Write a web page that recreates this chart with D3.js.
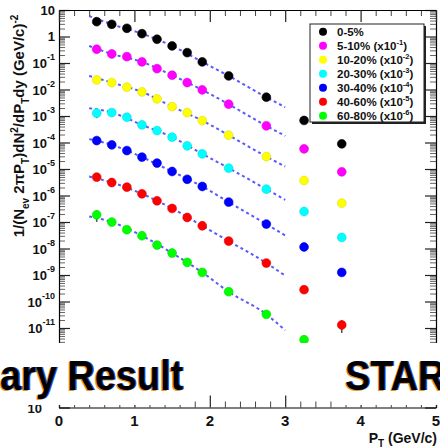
<!DOCTYPE html>
<html>
<head>
<meta charset="utf-8">
<script src="https://cdn.jsdelivr.net/npm/d3@7"></script>
<style>
  body { margin: 0; background: #fff; }
  svg { display: block; }
  text { font-family: "Liberation Sans", Arial, sans-serif; font-weight: bold; }
</style>
</head>
<body>
<svg id="chart" width="440" height="448"></svg>
<script>
// Transverse momentum bin centres (GeV/c)
const pT = [0.5, 0.7, 0.9, 1.1, 1.3, 1.5, 1.7, 1.9, 2.25, 2.75, 3.25, 3.75];

// Invariant yields per centrality class (already scaled as in the legend)
const yield0_5   = [3.62, 2.89, 2.04, 1.28, 0.787, 0.440, 0.246, 0.110, 0.0325, 0.00513, 6.8e-4, 8.9e-5];
const yield5_10  = [0.330, 0.219, 0.174, 0.110, 0.0612, 0.0346, 0.0182, 0.00966, 0.00279, 4.25e-4, 5.77e-5, 7.83e-6];
const yield10_20 = [0.0230, 0.0182, 0.0122, 0.00811, 0.00442, 0.00226, 0.00134, 6.70e-4, 1.89e-4, 2.95e-5, 3.68e-6, 5.18e-7];
const yield20_30 = [1.28e-3, 1.35e-3, 9.0e-4, 4.62e-4, 2.82e-4, 1.59e-4, 7.48e-5, 3.73e-5, 1.08e-5, 1.74e-6, 2.49e-7, 2.61e-8];
const yield30_40 = [1.18e-4, 8.15e-5, 4.97e-5, 2.81e-5, 1.67e-5, 8.04e-6, 4.09e-6, 2.19e-6, 5.65e-7, 8.38e-8, 1.14e-8, 1.25e-9];
const yield40_60 = [4.94e-6, 3.09e-6, 2.07e-6, 1.16e-6, 6.32e-7, 3.24e-7, 1.48e-7, 7.21e-8, 1.91e-8, 2.83e-9, 2.79e-10, 1.30e-11];
const yield60_80 = [1.87e-7, 9.95e-8, 5.11e-8, 3.03e-8, 1.35e-8, 6.75e-9, 2.99e-9, 1.25e-9, 2.34e-10, 3.27e-11, 3.64e-12, null];

// Visible statistical errors: [class index, pT index, absolute error]
const errBars = [[3, 0, 4.5e-4], [6, 0, 8.6e-8], [5, 11, 6.5e-12]];

// Fit curves, sampled at these pT values
const fitPT = [0.4, 0.7, 1.1, 1.5, 1.9, 2.25, 2.75, 3.0];
const fit0_5   = [5.94, 2.89, 1.28, 0.440, 0.110, 0.0325, 0.00513, 0.00215];
const fit5_10  = [0.440, 0.219, 0.110, 0.0346, 0.00966, 0.00279, 4.25e-4, 1.78e-4];
const fit10_20 = [0.0325, 0.0182, 0.00811, 0.00226, 6.70e-4, 1.89e-4, 2.95e-5, 1.24e-5];
const fit20_30 = [1.97e-3, 1.35e-3, 4.62e-4, 1.59e-4, 3.73e-5, 1.08e-5, 1.74e-6, 6.89e-7];
const fit30_40 = [1.34e-4, 8.15e-5, 2.81e-5, 8.04e-6, 2.19e-6, 5.65e-7, 8.38e-8, 3.11e-8];
const fit40_60 = [5.21e-6, 3.09e-6, 1.16e-6, 3.24e-7, 7.21e-8, 1.91e-8, 2.83e-9, 9.42e-10];
const fit60_80 = [1.62e-7, 9.95e-8, 3.03e-8, 6.75e-9, 1.25e-9, 2.34e-10, 3.27e-11, 8.17e-12];

// Centrality classes: label, scale exponent shown in legend
const classes = ["0-5%", "5-10%", "10-20%", "20-30%", "30-40%", "40-60%", "60-80%"];
const scaleExp = [null, -1, -2, -3, -4, -5, -6];
const colors = ["#000000", "#ff00ff", "#ffff00", "#00ffff", "#0000ff", "#ff0000", "#00ff00"];
const yields = [yield0_5, yield5_10, yield10_20, yield20_30, yield30_40, yield40_60, yield60_80];
const fits = [fit0_5, fit5_10, fit10_20, fit20_30, fit30_40, fit40_60, fit60_80];

// Axis tick labels
const xTickLabels = [0, 1, 2, 3, 4, 5];
const yTickExps = [1, 0, -1, -2, -3, -4, -5, -6, -7, -8, -9, -10, -11, -14];

const svg = d3.select("#chart");
const x = d3.scaleLinear().domain([0, 5]).range([59, 436]);
const y = d3.scaleLog().domain([1e-14, 10]).range([407.5, 10]);

// Tick positions
const xMajor = d3.range(0, 5.01, 1);
const xMinor = d3.range(0, 5.01, 0.2).filter(v => Math.abs(v - Math.round(v)) > 1e-6);
const yMajor = d3.range(-14, 2).map(e => Math.pow(10, e));
const yMinor = [];
for (let e = -14; e < 1; e++) for (let m = 2; m <= 9; m++) yMinor.push(m * Math.pow(10, e));

function styleAxis(g, color, width, keepDomain) {
  g.selectAll("text").remove();
  g.selectAll(".tick line").attr("stroke", color).attr("stroke-width", width);
  if (!keepDomain) g.select(".domain").remove();
  else g.select(".domain").attr("stroke", "#000").attr("stroke-width", 1.2);
}

const frame = svg.append("g");
// left & right (log) axes
frame.append("g").attr("transform", "translate(59,0)")
  .call(d3.axisRight(y).tickValues(yMinor).tickSize(6).tickSizeOuter(0))
  .call(g => styleAxis(g, "#666", 1, false));
frame.append("g").attr("transform", "translate(59,0)")
  .call(d3.axisRight(y).tickValues(yMajor).tickSize(11).tickSizeOuter(0))
  .call(g => styleAxis(g, "#222", 1.2, true));
frame.append("g").attr("transform", "translate(436,0)")
  .call(d3.axisLeft(y).tickValues(yMinor).tickSize(6).tickSizeOuter(0))
  .call(g => styleAxis(g, "#666", 1, false));
frame.append("g").attr("transform", "translate(436,0)")
  .call(d3.axisLeft(y).tickValues(yMajor).tickSize(11).tickSizeOuter(0))
  .call(g => styleAxis(g, "#222", 1.2, true));
// top & bottom axes
frame.append("g").attr("transform", "translate(0,10)")
  .call(d3.axisBottom(x).tickValues(xMinor).tickSize(6).tickSizeOuter(0))
  .call(g => styleAxis(g, "#444", 1, false));
frame.append("g").attr("transform", "translate(0,10)")
  .call(d3.axisBottom(x).tickValues(xMajor).tickSize(12).tickSizeOuter(0))
  .call(g => styleAxis(g, "#222", 1.2, true));
frame.append("g").attr("transform", "translate(0,407.5)")
  .call(d3.axisTop(x).tickValues(xMinor).tickSize(6).tickSizeOuter(0))
  .call(g => styleAxis(g, "#444", 1, false));
frame.append("g").attr("transform", "translate(0,407.5)")
  .call(d3.axisTop(x).tickValues(xMajor).tickSize(12).tickSizeOuter(0))
  .call(g => styleAxis(g, "#222", 1.2, true));

// y tick labels: 10^n
const yl = svg.append("g");
yTickExps.forEach(e => {
  const t = yl.append("text").attr("x", 55).attr("y", y(Math.pow(10, e)))
    .attr("text-anchor", "end").attr("dominant-baseline", "central")
    .attr("font-size", 13).attr("fill", "#111");
  if (e === 0) t.text("1");
  else if (e === 1) t.text("10");
  else {
    t.append("tspan").text("10");
    t.append("tspan").attr("font-size", 9).attr("dy", -6).text(String(e));
  }
});

// x tick labels
svg.append("g").selectAll("text").data(xTickLabels).join("text")
  .attr("x", d => x(d)).attr("y", 426).attr("text-anchor", "middle")
  .attr("font-size", 15).attr("fill", "#111").text(d => d);

// x axis title
const xt = svg.append("text").attr("x", 437).attr("y", 443).attr("text-anchor", "end")
  .attr("font-size", 14).attr("fill", "#111");
xt.append("tspan").text("P");
xt.append("tspan").attr("font-size", 10).attr("dy", 4).text("T");
xt.append("tspan").attr("dy", -4).text(" (GeV/c)");

// y axis title
const yt = svg.append("text").attr("transform", "translate(24,126) rotate(-90)")
  .attr("text-anchor", "middle").attr("font-size", 15).attr("fill", "#111");
[["1/(N", 0, 15], ["ev", 5, 10], [" 2\u03C0P", -5, 15], ["T", 5, 10], [")dN", -5, 15],
 ["2", -6, 10], ["/dP", 6, 15], ["T", 5, 10], ["dy (GeV/c)", -5, 15], ["-2", -6, 10]]
  .forEach(([s, dy, fs]) => yt.append("tspan").attr("dy", dy).attr("font-size", fs).text(s));

// fit curves
const fitLine = d3.line().x(d => x(d[0])).y(d => y(d[1])).curve(d3.curveMonotoneX);
svg.append("g").selectAll("path").data(fits).join("path")
  .attr("d", f => fitLine(fitPT.map((p, i) => [p, f[i]])))
  .attr("fill", "none").attr("stroke", "#3c3cff").attr("stroke-opacity", 0.85)
  .attr("stroke-width", 2).attr("stroke-dasharray", "3,3");

// error bars
svg.append("g").selectAll("line").data(errBars).join("line")
  .attr("x1", d => x(pT[d[1]])).attr("x2", d => x(pT[d[1]]))
  .attr("y1", d => y(yields[d[0]][d[1]] + d[2]))
  .attr("y2", d => y(yields[d[0]][d[1]] - d[2]))
  .attr("stroke", "#555").attr("stroke-width", 1.6);

// data points
const pts = svg.append("g");
yields.forEach((ys, k) => {
  pts.selectAll(null).data(pT.map((p, i) => [p, ys[i]]).filter(d => d[1] != null)).join("circle")
    .attr("cx", d => x(d[0])).attr("cy", d => y(d[1])).attr("r", 4.4)
    .attr("fill", colors[k]).attr("stroke", d3.color(colors[k]).darker(0.4)).attr("stroke-width", 0.6);
});

// legend
const lg = svg.append("g");
lg.append("rect").attr("x", 312).attr("y", 26).attr("width", 114).attr("height", 98).attr("fill", "#222");
lg.append("rect").attr("x", 310).attr("y", 24).attr("width", 114).attr("height", 98)
  .attr("fill", "#fff").attr("stroke", "#222").attr("stroke-width", 1);
classes.forEach((c, i) => {
  const yy = 31.7 + i * 14;
  lg.append("circle").attr("cx", 323).attr("cy", yy).attr("r", 4).attr("fill", colors[i]);
  const t = lg.append("text").attr("x", 337).attr("y", yy + 4).attr("font-size", 11.5).attr("fill", "#111");
  t.append("tspan").text(c);
  if (scaleExp[i] != null) {
    t.append("tspan").text(" (x10");
    t.append("tspan").attr("font-size", 7.5).attr("dy", -5).text(String(scaleExp[i]));
    t.append("tspan").attr("dy", 5).text(")");
  }
});

// banner across the lower part
const bn = svg.append("g");
bn.append("rect").attr("x", 0).attr("y", 343).attr("width", 440).attr("height", 52).attr("fill", "#fff");
bn.append("rect").attr("x", 0).attr("y", 343).attr("width", 190).attr("height", 62).attr("fill", "#fff");
bn.append("rect").attr("x", 338).attr("y", 343).attr("width", 102).attr("height", 62).attr("fill", "#fff");

// measure the word "ary Result" to set a horizontal condensing factor
const probe = bn.append("text").attr("font-family", "Lato, 'Open Sans', sans-serif")
  .attr("font-weight", 700).attr("font-size", 42).text("ary Result");
const probeW = probe.node().getComputedTextLength();
probe.remove();
const sx = Math.min(1, 183 / probeW);

function bannerText(str, xx, anchor) {
  const g = bn.append("g").attr("transform", `translate(${xx},390) scale(${sx},1)`);
  [["#e8922a", -1.2, 1.2], ["#2a55c8", 1.2, -0.4], ["#000", 0, 0]].forEach(([col, dx, dy]) => {
    g.append("text").attr("x", dx).attr("y", dy).attr("text-anchor", anchor)
      .attr("font-family", "Lato, 'Open Sans', sans-serif").attr("font-weight", 700)
      .attr("font-size", 42).attr("fill", col).text(str);
  });
}
bannerText("Preliminary Result", 183, "end");
bannerText("STAR", 345, "start");
</script>
</body>
</html>
